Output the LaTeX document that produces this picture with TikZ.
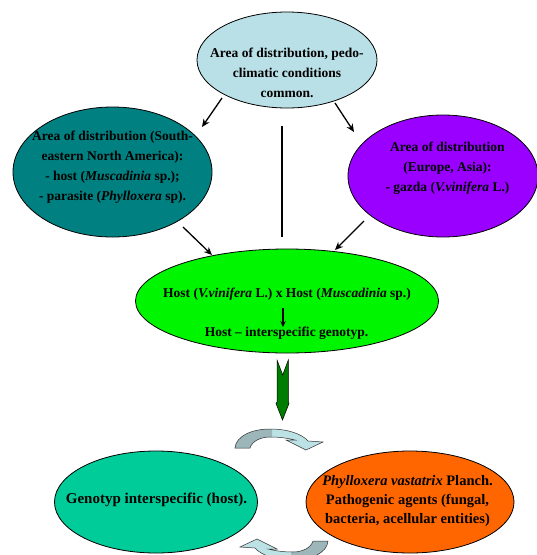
\documentclass[tikz,border=0pt]{standalone}
\usepackage{fontspec}
\setmainfont{Liberation Serif}[BoldFont={* Bold},ItalicFont={* Italic},BoldItalicFont={* Bold Italic}]
\usetikzlibrary{shapes.geometric,arrows.meta}
\definecolor{topblue}{RGB}{185,224,230}
\definecolor{tealdark}{RGB}{0,128,128}
\definecolor{purp}{RGB}{153,0,255}
\definecolor{brightgreen}{RGB}{0,245,0}
\definecolor{darkgreen}{RGB}{0,125,0}
\definecolor{seagreen}{RGB}{0,204,153}
\definecolor{orng}{RGB}{255,102,0}
\definecolor{cyctail}{RGB}{156,182,186}
\definecolor{cychead}{RGB}{188,226,230}
\newcommand{\bfit}[1]{{\bfseries\itshape #1}}
\def\cyctop{(235,448) .. controls (236,436) and (252,429) .. (270,429)
      .. controls (288,429) and (302,434) .. (308,441) -- (323,442) -- (306,450)
      -- (286,440) -- (295,440) .. controls (287,438) and (279,437) .. (270,437)
      .. controls (261,437) and (252,441) .. (250,448) -- cycle}
\def\cycbot{(328,541) .. controls (327,553) and (311,560) .. (293,560)
      .. controls (275,560) and (261,555) .. (255,548) -- (240,547) -- (257,539)
      -- (277,549) -- (268,549) .. controls (276,551) and (284,552) .. (293,552)
      .. controls (302,552) and (311,548) .. (313,541) -- cycle}
\tikzset{
  blob/.style={ellipse, draw=black, line width=0.8pt, inner sep=0pt},
  lbl/.style={font=\bfseries\fontsize{13.5}{20}\selectfont, align=center, inner sep=0pt},
  lblbig/.style={font=\bfseries\fontsize{15}{19}\selectfont, align=center, inner sep=0pt},
  conn/.style={line width=1.3pt, -{Stealth[length=8pt,width=7pt]}},
  cycline/.style={line width=0.5pt, draw=black!80},
}
\begin{document}
\begin{tikzpicture}[x=1pt,y=-1pt]
\clip (0,0) rectangle (537,555);
\fill[white] (0,0) rectangle (537,555);

% ellipses
\node[blob, fill=topblue, minimum width=180pt, minimum height=96pt] (top) at (287,60) {};
\node[blob, fill=tealdark, minimum width=199pt, minimum height=130pt] (left) at (112.5,172) {};
\node[blob, fill=purp, minimum width=190pt, minimum height=122pt] (right) at (443,176) {};
\node[blob, fill=brightgreen, minimum width=303pt, minimum height=104pt] (mid) at (287,301) {};
\node[blob, fill=seagreen, minimum width=203pt, minimum height=102pt] (geno) at (156,502) {};
\node[blob, fill=orng, minimum width=208pt, minimum height=102pt] (phyl) at (410,502) {};

% texts
\node[lbl] (toptxt) at (287,73) {Area of distribution, pedo-\\climatic conditions\\common.};
\node[lbl] (lefttxt) at (112.5,167) {Area of distribution (South-\\eastern North America):\\- host (\bfit{Muscadinia} sp.);\\- parasite (\bfit{Phylloxera} sp).};
\node[lbl] (righttxt) at (447.5,168) {Area of distribution\\(Europe, Asia):\\- gazda (\bfit{V.vinifera} L.)};
\node[lbl] (midtxtA) at (287,294) {Host (\bfit{V.vinifera} L.) x Host (\bfit{Muscadinia} sp.)};
\node[lbl] (midtxtB) at (286.5,333) {Host -- interspecific genotyp.};
\node[lblbig] (genotxt) at (156.5,500) {Genotyp interspecific (host).};
\node[lbl, font=\bfseries\fontsize{14.5}{19}\selectfont] (phyltxt) at (407.5,501) {\bfit{Phylloxera vastatrix} Planch.\\Pathogenic agents (fungal,\\bacteria, acellular entities)};

% connector endpoints
\coordinate (a1s) at (222,98);  \coordinate (a1e) at (202,127);
\coordinate (a2s) at (335,103); \coordinate (a2e) at (354,132);
\coordinate (vls) at (282,126); \coordinate (vle) at (282,237);
\coordinate (a3s) at (183,227); \coordinate (a3e) at (212,255);
\coordinate (a4s) at (364,221); \coordinate (a4e) at (335,250);
\coordinate (a5s) at (283,308); \coordinate (a5e) at (283,327);

\draw[conn] (a1s) -- (a1e);
\draw[conn] (a2s) -- (a2e);
\draw[line width=1.6pt] (vls) -- (vle);
\draw[conn] (a3s) -- (a3e);
\draw[conn] (a4s) -- (a4e);
\draw[line width=1.1pt, -{Stealth[length=6pt,width=5.5pt]}] (a5s) -- (a5e);

% dark green notched arrow
\draw[fill=darkgreen, line width=0.5pt] (277,360) -- (282.7,375) -- (288.3,360) -- (288.3,402)
  -- (289,403.5) -- (282.5,420) -- (276,403.5) -- (277,402) -- cycle;

% cyclic arrow, top
\fill[cychead] \cyctop;
\begin{scope}
  \clip (230,420) rectangle (272,455);
  \fill[cyctail] \cyctop;
\end{scope}
\draw[cycline] \cyctop;

% cyclic arrow, bottom
\fill[cychead] \cycbot;
\begin{scope}
  \clip (291,530) rectangle (335,560);
  \fill[cyctail] \cycbot;
\end{scope}
\draw[cycline] \cycbot;
\end{tikzpicture}
\end{document}
